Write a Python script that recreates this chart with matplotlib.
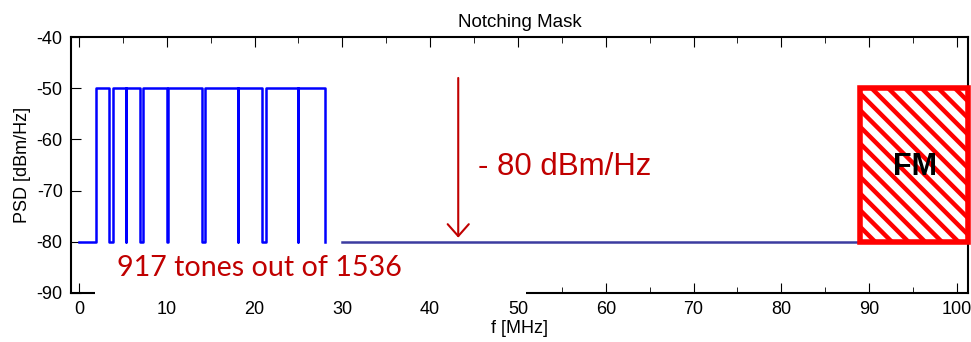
import matplotlib
matplotlib.use("Agg")
import matplotlib.pyplot as plt
from matplotlib.patches import Rectangle

# data
f_first_tone = 1.9          # MHz, first tone switched on
f_last_tone = 28.0          # MHz, last tone switched off
notches = [(3.45, 3.9), (5.35, 5.4), (6.95, 7.25), (10.06, 10.12),
           (14.05, 14.35), (18.07, 18.12), (20.8, 21.3), (24.9, 24.96)]
psd_on = -50                # dBm/Hz
psd_off = -80               # dBm/Hz
floor_span = [30.0, 89.7]   # MHz, -80 dBm/Hz floor
fm_band = [89.0, 101.2]     # MHz
arrow_f = 43.2
arrow_top = -48.0
xticks = [0, 10, 20, 30, 40, 50, 60, 70, 80, 90, 100]
yticks = [-90, -80, -70, -60, -50, -40]

dark_red = "#C00000"
plt.rcParams['font.family'] = ['Liberation Sans', 'DejaVu Sans']
plt.rcParams['axes.unicode_minus'] = False
plt.rcParams['hatch.linewidth'] = 3.2

#------------------------------------------------
# step mask from the notch list
f = [0, f_first_tone, f_first_tone]
p = [psd_off, psd_off, psd_on]
for a, b in notches:
    f += [a, a, b, b]
    p += [psd_on, psd_off, psd_off, psd_on]
f += [f_last_tone, f_last_tone]
p += [psd_on, psd_off]

fig = plt.figure(figsize=(9.71, 3.42), dpi=100)
ax = fig.add_axes([0.0731, 0.1433, 0.9238, 0.7485])

ax.plot(f, p, color="#0000FF", lw=1.8, zorder=3)
ax.plot(floor_span, [psd_off, psd_off], color="#3C3CA0", lw=1.8, zorder=3)

# FM band
ax.add_patch(Rectangle((fm_band[0], psd_off), fm_band[1] - fm_band[0], psd_on - psd_off,
                       facecolor="white", edgecolor="#FF0000", hatch="\\\\",
                       lw=4, clip_on=False, zorder=4))
ax.text(95.2, -65.3, "FM", fontsize=22, fontweight="bold", ha="center", va="center",
        color="black", zorder=5)

# -80 dBm/Hz arrow
ax.annotate("", xy=(arrow_f, -79.2), xytext=(arrow_f, arrow_top),
            arrowprops=dict(arrowstyle="->,head_length=0.43,head_width=0.38",
                            color=dark_red, lw=1.5, shrinkA=0, shrinkB=0,
                            mutation_scale=20))
ax.text(45.4, -65.4, "- 80 dBm/Hz", fontsize=22.5, color=dark_red, va="center", ha="left")

ax.set_xlim(-0.9, 101.25)
ax.set_ylim(-90, -40)
ax.set_xticks(xticks)
ax.set_yticks(yticks)
ax.set_xticks(range(5, 101, 10), minor=True)
ax.tick_params(axis="x", which="major", direction="in", top=True, length=7, labelsize=13, pad=6)
ax.tick_params(axis="x", which="minor", direction="in", top=True, length=4)
ax.tick_params(axis="y", which="major", direction="in", right=False, length=7, labelsize=13, pad=6)
for s in ax.spines.values():
    s.set_linewidth(1.5)

ax.set_title("Notching Mask", fontsize=13.5, pad=7)
ax.set_xlabel("f [MHz]", fontsize=13, labelpad=1)
ax.set_ylabel("PSD [dBm/Hz]", fontsize=13, labelpad=4)

# white label box over the bottom axis
fig.add_artist(Rectangle((0.0978, 0.1316), 0.444, 0.1434, transform=fig.transFigure,
                         facecolor="white", edgecolor="none", zorder=5))
fig.text(0.1205, 0.2164, "917 tones out of 1536", fontsize=20.6, color=dark_red,
         family="Lato", va="center", ha="left", zorder=6)

plt.savefig("out.png", dpi=100)
